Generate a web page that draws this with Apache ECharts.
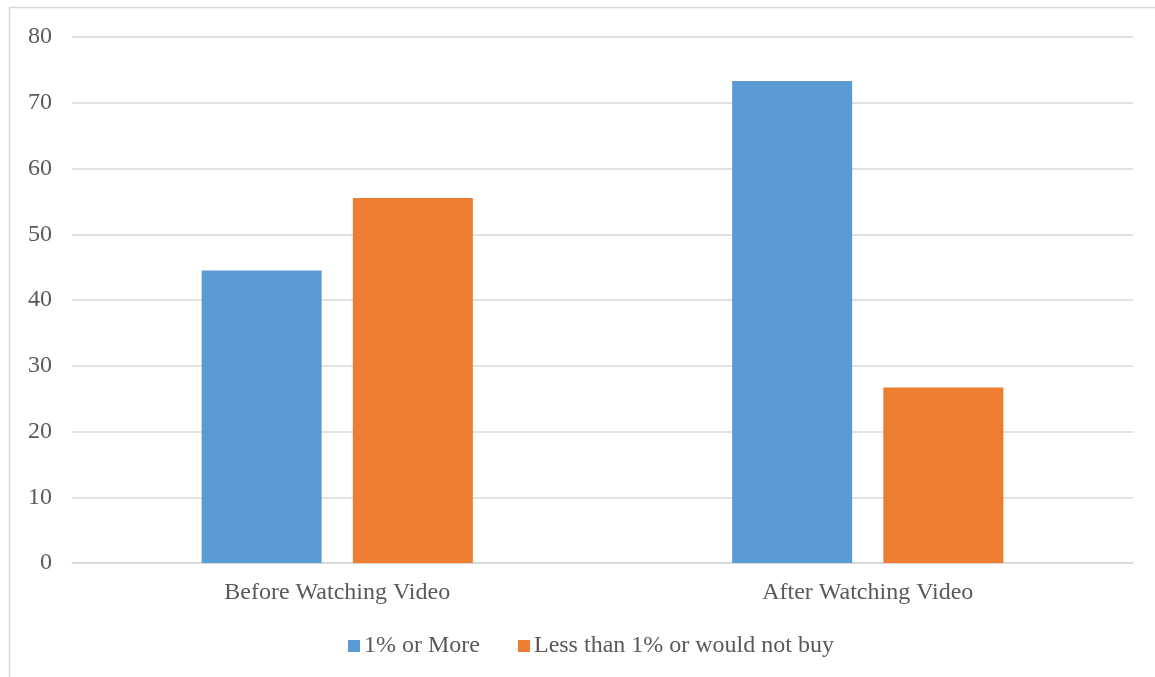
<!DOCTYPE html>
<html>
<head>
<meta charset="utf-8">
<script src="https://cdn.jsdelivr.net/npm/echarts@6/dist/echarts.min.js"></script>
<style>
  html, body { margin: 0; padding: 0; background: #fff; }
  #chart { width: 1155px; height: 677px; }
</style>
</head>
<body>
<div id="chart"></div>
<script>
// Share of respondents before and after watching the video
const categories = ['Before Watching Video', 'After Watching Video'];
const seriesNames = ['1% or More', 'Less than 1% or would not buy'];
const oneOrMore = [44.5, 73.3];
const lessThanOne = [55.5, 26.7];
const yTicks = { min: 0, max: 80, interval: 10 };

const FONT = '"Liberation Serif", "Times New Roman", serif';
const TEXT = '#595959';
const LINE = '#d9d9d9';

const chart = echarts.init(document.getElementById('chart'), null, { renderer: 'canvas' });

chart.setOption({
  backgroundColor: '#ffffff',
  animation: false,
  textStyle: { fontFamily: FONT },
  graphic: [{
    type: 'rect',
    shape: { x: 9.5, y: 7.5, width: 1300, height: 800 },
    style: { fill: 'none', stroke: LINE, lineWidth: 1.5 },
    silent: true,
    z: -1
  }],
  legend: {
    left: 343,
    top: 629,
    itemWidth: 12,
    itemHeight: 12,
    itemGap: 38,
    icon: 'rect',
    textStyle: { fontFamily: FONT, fontSize: 24, color: TEXT, padding: [0, 0, 0, -1] },
    data: seriesNames
  },
  grid: { left: 72, right: 22, top: 37, bottom: 114, containLabel: false },
  xAxis: {
    type: 'category',
    data: categories,
    axisLine: { lineStyle: { color: LINE, width: 1.5 } },
    axisTick: { show: false },
    axisLabel: { fontFamily: FONT, fontSize: 24, color: TEXT, margin: 18 }
  },
  yAxis: {
    type: 'value',
    min: yTicks.min,
    max: yTicks.max,
    interval: yTicks.interval,
    axisLine: { show: false },
    axisTick: { show: false },
    axisLabel: { fontFamily: FONT, fontSize: 24, color: TEXT, margin: 20 },
    splitLine: { lineStyle: { color: LINE, width: 1.5 } }
  },
  series: [
    {
      name: seriesNames[0],
      type: 'bar',
      data: oneOrMore,
      barWidth: 120,
      barGap: '26%',
      itemStyle: { color: '#5b9bd5' }
    },
    {
      name: seriesNames[1],
      type: 'bar',
      data: lessThanOne,
      barWidth: 120,
      itemStyle: { color: '#ed7d31' }
    }
  ]
});
</script>
</body>
</html>
